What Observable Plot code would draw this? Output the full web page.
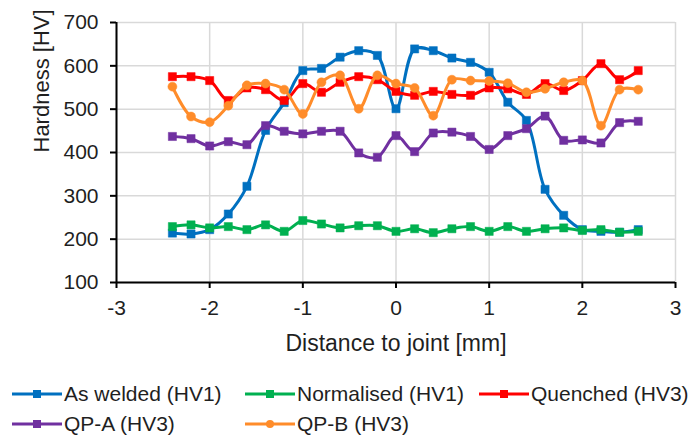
<!DOCTYPE html>
<html>
<head>
<meta charset="utf-8">
<script src="https://cdn.jsdelivr.net/npm/d3@7"></script>
<script src="https://cdn.jsdelivr.net/npm/@observablehq/plot@0.6"></script>
<style>
  html, body { margin: 0; padding: 0; background: #fff; }
  body { width: 692px; height: 437px; overflow: hidden; font-family: "Liberation Sans", Arial, sans-serif; color: #1f1f1f; }
  #chart svg { display: block; }
  #legend { position: relative; height: 75px; }
  .item { position: absolute; display: flex; align-items: center; font-size: 21px; white-space: nowrap; line-height: 24px; }
  .item svg { margin-right: 2px; display: block; }
</style>
</head>
<body>
<div id="chart"></div>
<div id="legend"></div>
<script>
const distance = [-2.4,-2.2,-2.0,-1.8,-1.6,-1.4,-1.2,-1.0,-0.8,-0.6,-0.4,-0.2,0.0,0.2,0.4,0.6,0.8,1.0,1.2,1.4,1.6,1.8,2.0,2.2,2.4,2.6];
const asWelded   = [214,212,222,258,322,451,515,589,594,620,635,624,501,639,635,618,608,585,516,474,315,255,222,218,216,222];
const normalised = [229,233,226,229,222,233,218,243,235,226,231,231,218,224,215,224,229,218,229,218,224,226,220,222,216,218];
const quenched   = [575,575,566,520,549,545,520,559,539,562,575,568,541,532,541,534,532,549,547,534,559,543,566,605,568,589];
const qpA        = [437,432,415,425,418,462,449,443,449,449,399,389,439,402,445,447,437,407,439,455,484,428,429,422,469,472];
const qpB        = [552,483,470,508,555,559,545,489,562,578,501,578,559,549,485,568,566,565,560,539,547,562,566,462,545,545];

const seriesNames = ["As welded (HV1)","Normalised (HV1)","Quenched (HV3)","QP-A (HV3)","QP-B (HV3)"];
const seriesValues = [asWelded, normalised, quenched, qpA, qpB];
const seriesColors = ["#0070C0","#00B050","#FF0000","#7030A0","#FF8C2A"];
const seriesSymbols = ["square","square","square","square","circle"];
const xTicks = [-3,-2,-1,0,1,2,3];
const yTicks = [100,200,300,400,500,600,700];

const rows = seriesNames.flatMap((name, i) =>
  distance.map((d, j) => ({series: name, x: d, y: seriesValues[i][j]})));

const marks = [
  Plot.gridX(xTicks, {stroke: "#d9d9d9", strokeOpacity: 1, strokeWidth: 1.5}),
  Plot.gridY(yTicks, {stroke: "#d9d9d9", strokeOpacity: 1, strokeWidth: 1.5}),
  Plot.axisX(xTicks, {tickSize: 6, tickPadding: 12, fontSize: 21, tickFormat: d => d < 0 ? "-" + Math.abs(d) : String(d), label: null, strokeWidth: 2, stroke: "#000", color: "#1f1f1f"}),
  Plot.axisY(yTicks, {tickSize: 6, tickPadding: 12, fontSize: 21, label: null, strokeWidth: 2, stroke: "#000", color: "#1f1f1f"}),
  Plot.ruleY([100], {stroke: "#000", strokeWidth: 2}),
  Plot.ruleX([-3], {stroke: "#000", strokeWidth: 2}),
  Plot.text(["Distance to joint [mm]"], {frameAnchor: "bottom", dy: 68, fontSize: 23, fill: "#1f1f1f"}),
  Plot.text(["Hardness [HV]"], {frameAnchor: "left", dx: -75, rotate: -90, fontSize: 22, fill: "#1f1f1f"})
];
seriesNames.forEach((name, i) => {
  const data = rows.filter(r => r.series === name);
  marks.push(Plot.line(data, {x: "x", y: "y", stroke: seriesColors[i], strokeWidth: 3, curve: "catmull-rom"}));
  marks.push(Plot.dot(data, {x: "x", y: "y", fill: seriesColors[i], stroke: seriesColors[i], strokeWidth: 0.5, symbol: seriesSymbols[i], r: seriesSymbols[i] === "circle" ? 4.5 : 4.6}));
});

const chart = Plot.plot({
  width: 692,
  height: 362,
  marginLeft: 116,
  marginRight: 17,
  marginTop: 22,
  marginBottom: 80,
  style: {fontFamily: "'Liberation Sans', Arial, sans-serif", background: "#fff"},
  x: {domain: [-3, 3]},
  y: {domain: [100, 700]},
  marks
});
document.getElementById("chart").appendChild(chart);

// legend item anchor positions: [left x, row centre y relative to legend top]
const legendPos = [[12, 32], [245, 32], [479, 32], [12, 62], [245, 62]];
const legend = document.getElementById("legend");
seriesNames.forEach((name, i) => {
  const div = document.createElement("div");
  div.className = "item";
  div.style.left = legendPos[i][0] + "px";
  div.style.top = (legendPos[i][1] - 12) + "px";
  const c = seriesColors[i];
  const mk = seriesSymbols[i] === "circle"
    ? `<circle cx="25" cy="12" r="4" fill="${c}"/>`
    : `<rect x="21" y="8" width="8" height="8" fill="${c}"/>`;
  div.innerHTML = `<svg width="50" height="24"><line x1="0" y1="12" x2="50" y2="12" stroke="${c}" stroke-width="3"/>${mk}</svg><span>${name}</span>`;
  legend.appendChild(div);
});
</script>
</body>
</html>
